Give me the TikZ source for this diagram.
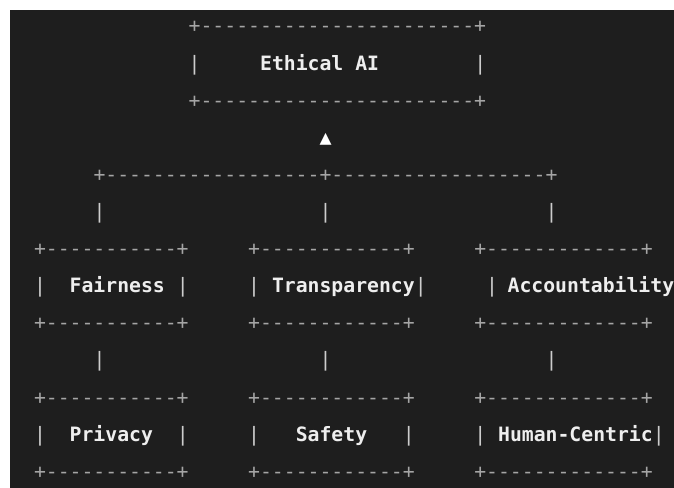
\documentclass[tikz,border=0pt]{standalone}
\usepackage{fontspec}
\setmonofont{DejaVu Sans Mono}
\definecolor{TermBg}{RGB}{30,30,30}
\definecolor{TermRule}{RGB}{165,165,165}
\definecolor{TermBar}{RGB}{205,205,205}
\definecolor{TermText}{RGB}{238,238,238}
\tikzset{
  ascii/.style={anchor=base west, inner sep=0pt, outer sep=0pt,
    font=\ttfamily\fontsize{14.82}{17}\selectfont},
  rulerow/.style={ascii, text=TermRule},
  bar/.style={ascii, text=TermBar},
  tag/.style={ascii, text=TermText,
    font=\ttfamily\bfseries\fontsize{14.82}{17}\selectfont},
  uptri/.style={anchor=center, inner sep=0pt, text=white,
    font=\ttfamily\fontsize{15}{17}\selectfont}
}

\begin{document}
\begin{tikzpicture}[x=0.75pt,y=-0.75pt]
  \useasboundingbox (0,0) rectangle (674,488);
  \fill[white] (0,0) rectangle (674,488);
  \fill[TermBg] (10,10) rectangle (674,488);
  % box borders, column/row of the first character
  \foreach \c/\r/\t [count=\i] in {
    13/0/{+-----------------------+},
    13/2/{+-----------------------+},
    5/4/{+------------------+------------------+},
    0/6/{+-----------+}, 18/6/{+------------+}, 37/6/{+-------------+},
    0/8/{+-----------+}, 18/8/{+------------+}, 37/8/{+-------------+},
    0/10/{+-----------+}, 18/10/{+------------+}, 37/10/{+-------------+},
    0/12/{+-----------+}, 18/12/{+------------+}, 37/12/{+-------------+}} {
    \node[rulerow] (rule\i) at ({34+\c*11.9},{33+\r*37.1}) {\t};
  }
  % vertical bars
  \foreach \c/\r [count=\i] in {
    13/1, 37/1,
    5/5, 24/5, 43/5,
    0/7, 12/7, 18/7, 32/7, 38/7,
    5/9, 24/9, 43/9,
    0/11, 12/11, 18/11, 31/11, 37/11, 52/11} {
    \node[bar] (bar\i) at ({34+\c*11.9},{33+\r*37.1}) {|};
  }
  % labels (last column trimmed a little so it stays on the page)
  \foreach \c/\r/\n/\t in {
    19/1/ethical/Ethical AI,
    3/7/fair/Fairness, 20/7/transp/Transparency, 39.8/7/account/Accountability,
    3/11/priv/Privacy, 22/11/safe/Safety, 39/11/human/Human-Centric} {
    \node[tag] (\n) at ({34+\c*11.9},{33+\r*37.1}) {\t};
  }
  \node[uptri] (up) at ({40+24*11.9},139) {▲};
\end{tikzpicture}
\end{document}
